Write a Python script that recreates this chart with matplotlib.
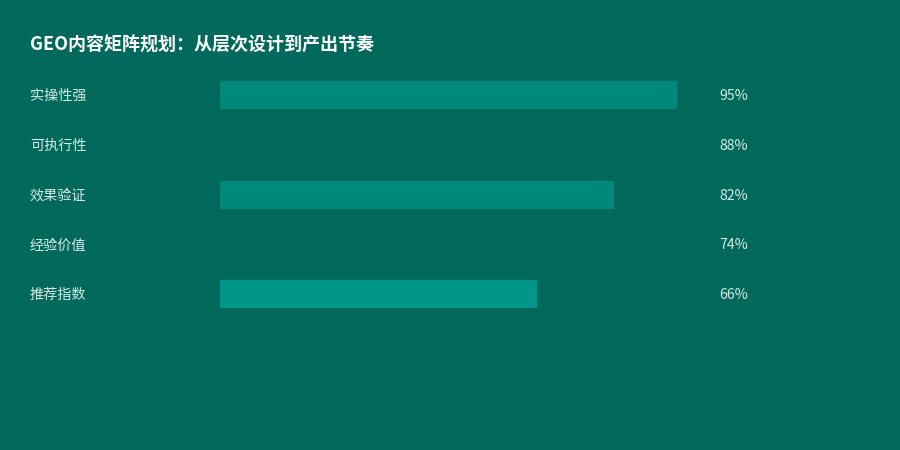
import matplotlib
matplotlib.use('Agg')
import matplotlib.pyplot as plt
import matplotlib.transforms as mtransforms

plt.rcParams['font.family'] = ['Noto Sans CJK SC', 'DejaVu Sans']

# data
categories = ['实操性强', '可执行性', '效果验证', '经验价值', '推荐指数']
values = [95, 88, 82, 74, 66]
bar_colors = ['#00897B', '#00695C', '#00897B', '#00695C', '#009688']
title = 'GEO内容矩阵规划：从层次设计到产出节奏'

bg = '#00695C'
text_color = '#d4ebe6'

fig = plt.figure(figsize=(9, 4.5), dpi=100)
fig.patch.set_facecolor(bg)

ax = fig.add_axes([220 / 900, 0, 481 / 900, 1])
ax.set_facecolor(bg)
ax.set_xlim(0, 100)
ax.set_ylim(7.12, -1.9)
ax.axis('off')

rows = list(range(len(categories)))
ax.barh(rows, values, height=0.56, color=bar_colors, edgecolor='none')

trans = mtransforms.blended_transform_factory(fig.transFigure, ax.transData)
for i, (cat, v) in enumerate(zip(categories, values)):
    ax.text(30 / 900, i + 0.02, cat, transform=trans, ha='left', va='center',
            fontsize=10.2, color=text_color)
    ax.text(719 / 900, i + 0.02, f'{v}%', transform=trans, ha='left', va='center',
            fontsize=10.2, color=text_color)

fig.text(30 / 900, 1 - 45 / 450, title, ha='left', va='center',
         fontsize=13, fontweight='bold', color='white')

fig.savefig('out.png', dpi=100, facecolor=bg)
